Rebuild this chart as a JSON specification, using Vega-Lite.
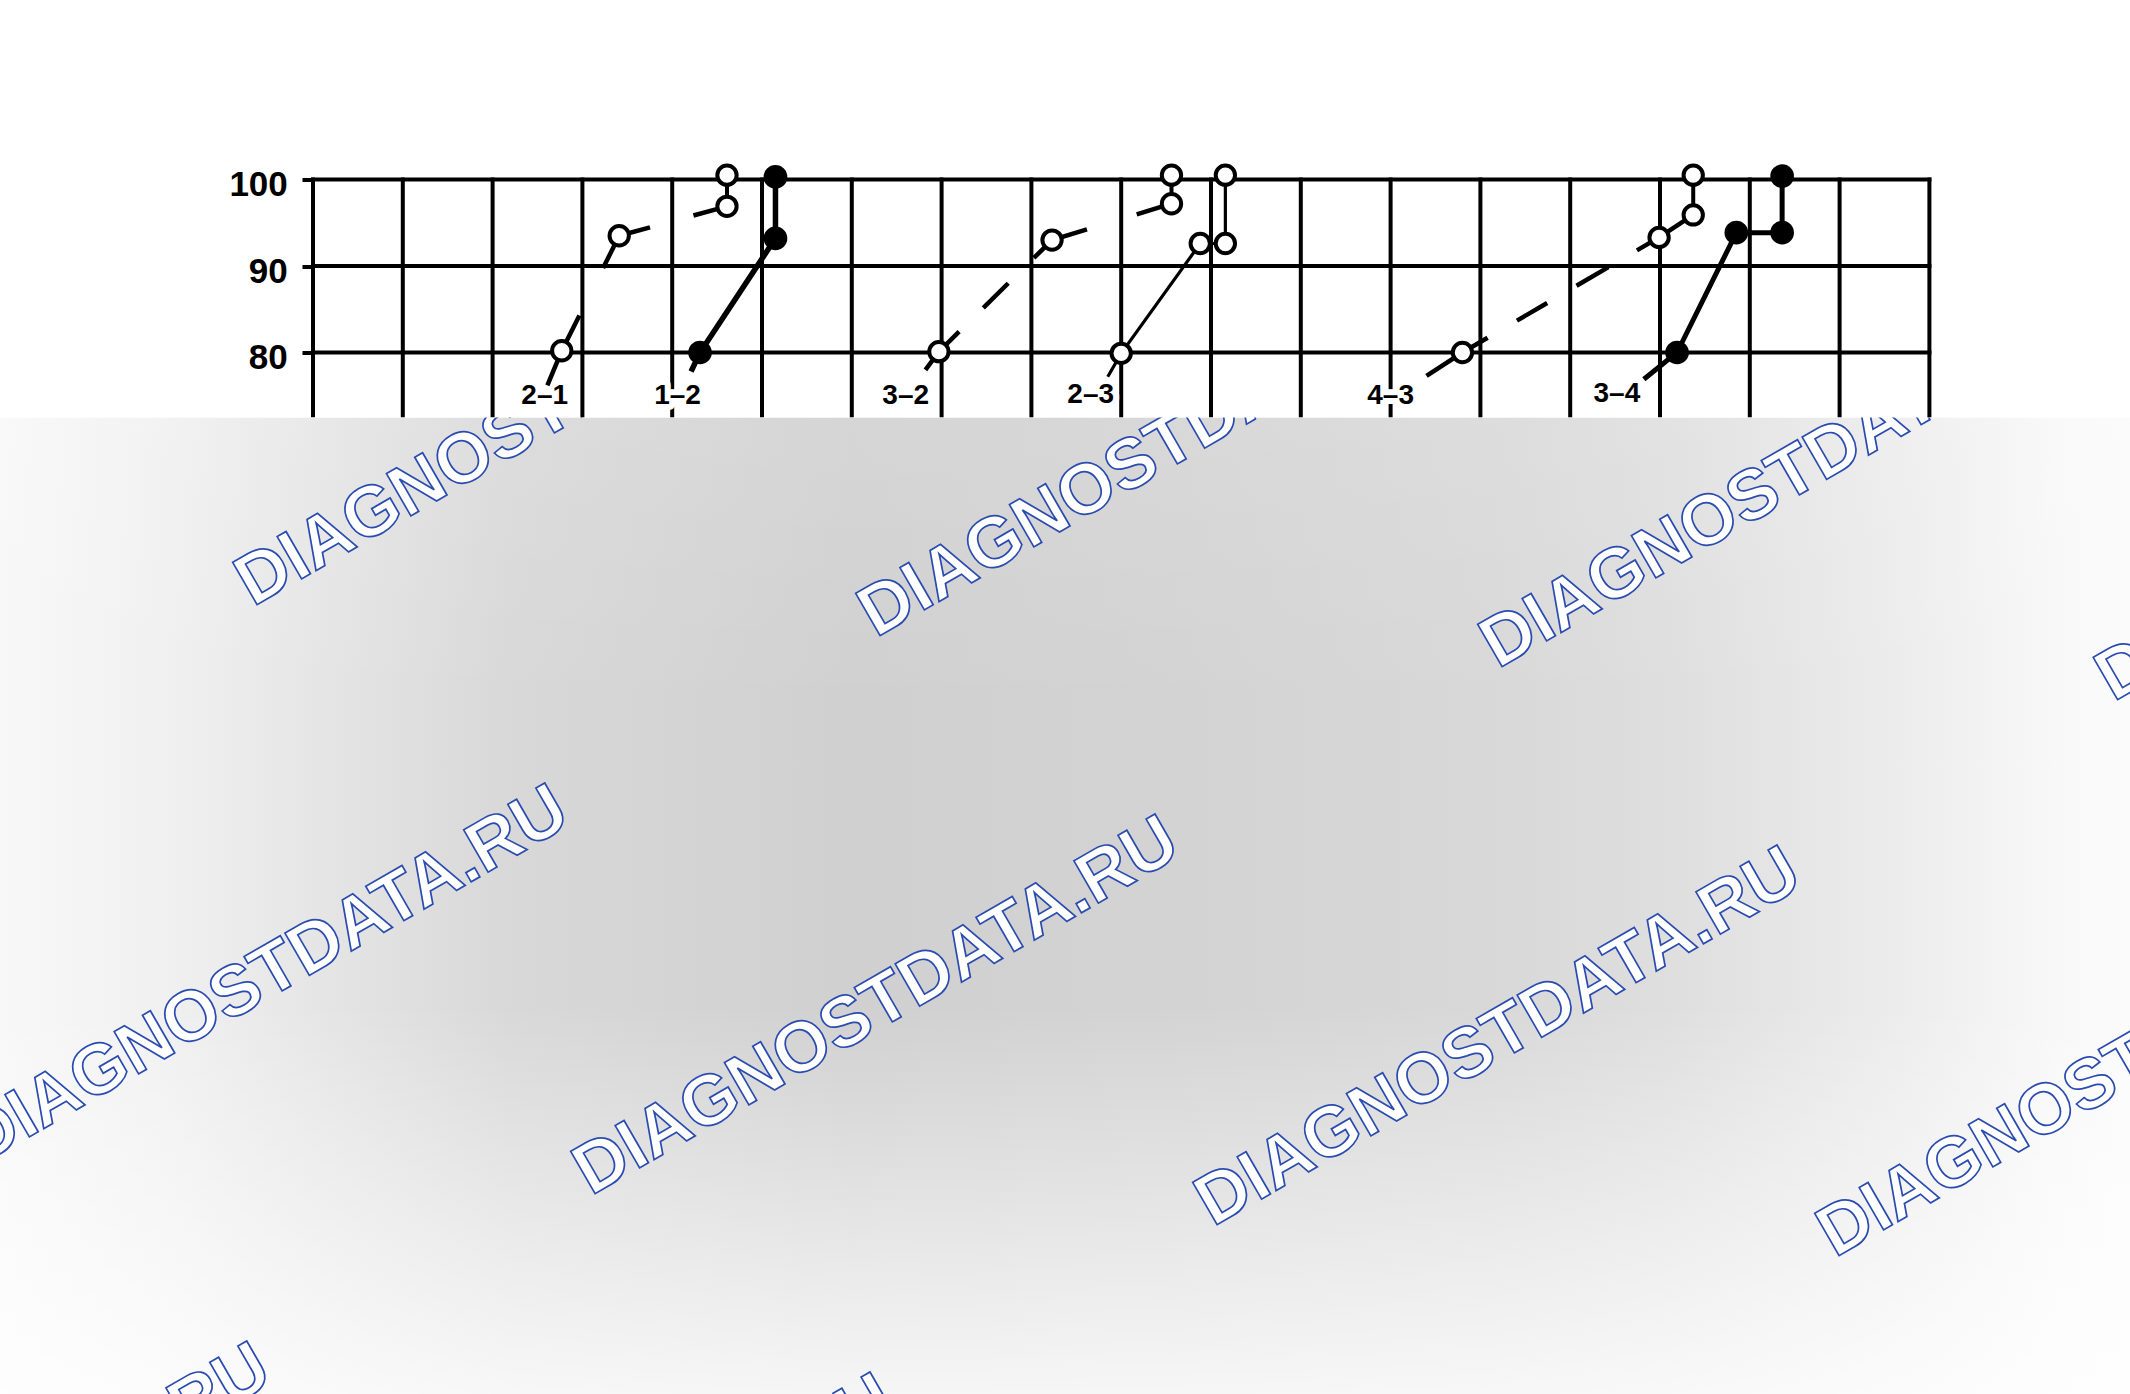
{
  "$schema": "https://vega.github.io/schema/vega-lite/v6.json",
  "width": 1616.4,
  "height": 692,
  "autosize": {"type": "none"},
  "padding": {"left": 313, "top": 179.5, "right": 200.6, "bottom": 522.5},
  "background": "white",
  "config": {"view": {"stroke": null}, "font": "Liberation Sans"},
  "datasets": {
    "overlay": [{"x": -3.49, "x2": 20.24, "y": 72.49, "y2": -40.4}],
    "mask": [{"x": -3.6, "x2": 20.4, "y": 72.49, "y2": 125}],
    "grid": [
      {"x": 0, "x2": 0, "y": 100, "y2": 72.75}, {"x": 1, "x2": 1, "y": 100, "y2": 72.75},
      {"x": 2, "x2": 2, "y": 100, "y2": 72.75}, {"x": 3, "x2": 3, "y": 100, "y2": 72.75},
      {"x": 4, "x2": 4, "y": 100, "y2": 72.75}, {"x": 5, "x2": 5, "y": 100, "y2": 72.75},
      {"x": 6, "x2": 6, "y": 100, "y2": 72.75}, {"x": 7, "x2": 7, "y": 100, "y2": 72.75},
      {"x": 8, "x2": 8, "y": 100, "y2": 72.75}, {"x": 9, "x2": 9, "y": 100, "y2": 72.75},
      {"x": 10, "x2": 10, "y": 100, "y2": 72.75}, {"x": 11, "x2": 11, "y": 100, "y2": 72.75},
      {"x": 12, "x2": 12, "y": 100, "y2": 72.75}, {"x": 13, "x2": 13, "y": 100, "y2": 72.75},
      {"x": 14, "x2": 14, "y": 100, "y2": 72.75}, {"x": 15, "x2": 15, "y": 100, "y2": 72.75},
      {"x": 16, "x2": 16, "y": 100, "y2": 72.75}, {"x": 17, "x2": 17, "y": 100, "y2": 72.75},
      {"x": 18, "x2": 18, "y": 100, "y2": 72.75},
      {"x": 0, "x2": 18, "y": 100, "y2": 100},
      {"x": 0, "x2": 18, "y": 90, "y2": 90},
      {"x": 0, "x2": 18, "y": 80, "y2": 80}
    ],
    "wm": [
      {"x": -0.668, "y": 50.58, "t": "DIAGNOSTDATA.RU"},
      {"x": 6.269, "y": 47.0, "t": "DIAGNOSTDATA.RU"},
      {"x": 13.196, "y": 43.41, "t": "DIAGNOSTDATA.RU"},
      {"x": 20.05, "y": 39.6, "t": "DIAGNOSTDATA.RU"},
      {"x": -3.7, "y": -13.93, "t": "DIAGNOSTDATA.RU"},
      {"x": 3.096, "y": -17.51, "t": "DIAGNOSTDATA.RU"},
      {"x": 10.022, "y": -21.1, "t": "DIAGNOSTDATA.RU"},
      {"x": 16.949, "y": -24.68, "t": "DIAGNOSTDATA.RU"},
      {"x": -7.016, "y": -78.44, "t": "DIAGNOSTDATA.RU"},
      {"x": -0.078, "y": -82.02, "t": "DIAGNOSTDATA.RU"},
      {"x": 6.849, "y": -85.61, "t": "DIAGNOSTDATA.RU"}
    ],
    "labels": [
      {"x": 2.58, "y": 75.0, "t": "2–1"},
      {"x": 4.06, "y": 75.0, "t": "1–2"},
      {"x": 6.6, "y": 75.0, "t": "3–2"},
      {"x": 8.66, "y": 75.1, "t": "2–3"},
      {"x": 12.0, "y": 75.0, "t": "4–3"},
      {"x": 14.52, "y": 75.2, "t": "3–4"}
    ],
    "lines": [
      {"s": "2–1", "o": 1, "x": 2.61, "y": 76.2},
      {"s": "2–1", "o": 2, "x": 2.77, "y": 80.2},
      {"s": "2–1", "o": 3, "x": 3.41, "y": 93.5},
      {"s": "2–1", "o": 4, "x": 4.61, "y": 96.9},
      {"s": "2–1 v", "o": 1, "x": 4.61, "y": 96.9},
      {"s": "2–1 v", "o": 2, "x": 4.61, "y": 100.5},
      {"s": "1–2", "o": 1, "x": 4.21, "y": 77.8},
      {"s": "1–2", "o": 2, "x": 4.31, "y": 80.0},
      {"s": "1–2", "o": 3, "x": 5.15, "y": 93.2},
      {"s": "1–2", "o": 4, "x": 5.15, "y": 100.3},
      {"s": "3–2", "o": 1, "x": 6.82, "y": 78.0},
      {"s": "3–2", "o": 2, "x": 6.97, "y": 80.1},
      {"s": "3–2", "o": 3, "x": 8.23, "y": 93.0},
      {"s": "3–2", "o": 4, "x": 9.56, "y": 97.2},
      {"s": "3–2 v", "o": 1, "x": 9.56, "y": 97.2},
      {"s": "3–2 v", "o": 2, "x": 9.56, "y": 100.5},
      {"s": "2–3", "o": 1, "x": 8.85, "y": 77.2},
      {"s": "2–3", "o": 2, "x": 9.0, "y": 79.9},
      {"s": "2–3", "o": 3, "x": 9.88, "y": 92.6},
      {"s": "2–3", "o": 4, "x": 10.16, "y": 92.6},
      {"s": "2–3", "o": 5, "x": 10.16, "y": 100.5},
      {"s": "4–3", "o": 1, "x": 12.4, "y": 77.3},
      {"s": "4–3", "o": 2, "x": 12.8, "y": 80.0},
      {"s": "4–3", "o": 3, "x": 14.99, "y": 93.3},
      {"s": "4–3", "o": 4, "x": 15.37, "y": 95.9},
      {"s": "4–3 v", "o": 1, "x": 15.37, "y": 95.9},
      {"s": "4–3 v", "o": 2, "x": 15.37, "y": 100.5},
      {"s": "3–4", "o": 1, "x": 14.82, "y": 76.9},
      {"s": "3–4", "o": 2, "x": 15.19, "y": 80.0},
      {"s": "3–4", "o": 3, "x": 15.85, "y": 93.85},
      {"s": "3–4", "o": 4, "x": 16.36, "y": 93.85},
      {"s": "3–4", "o": 5, "x": 16.36, "y": 100.4}
    ],
    "points": [
      {"k": "open", "x": 2.77, "y": 80.2},
      {"k": "open", "x": 3.41, "y": 93.5},
      {"k": "open", "x": 4.61, "y": 96.9},
      {"k": "open", "x": 4.61, "y": 100.5},
      {"k": "open", "x": 6.97, "y": 80.1},
      {"k": "open", "x": 8.23, "y": 93.0},
      {"k": "open", "x": 9.56, "y": 97.2},
      {"k": "open", "x": 9.56, "y": 100.5},
      {"k": "open", "x": 9.0, "y": 79.9},
      {"k": "open", "x": 9.88, "y": 92.6},
      {"k": "open", "x": 10.16, "y": 92.6},
      {"k": "open", "x": 10.16, "y": 100.5},
      {"k": "open", "x": 12.8, "y": 80.0},
      {"k": "open", "x": 14.99, "y": 93.3},
      {"k": "open", "x": 15.37, "y": 95.9},
      {"k": "open", "x": 15.37, "y": 100.5},
      {"k": "filled", "x": 4.31, "y": 80.0},
      {"k": "filled", "x": 5.15, "y": 93.2},
      {"k": "filled", "x": 5.15, "y": 100.3},
      {"k": "filled", "x": 15.19, "y": 80.0},
      {"k": "filled", "x": 15.85, "y": 93.85},
      {"k": "filled", "x": 16.36, "y": 93.85},
      {"k": "filled", "x": 16.36, "y": 100.4}
    ]
  },
  "encoding": {
    "x": {"field": "x", "type": "quantitative", "scale": {"domain": [0, 18], "nice": false, "zero": false}, "axis": null},
    "y": {
      "field": "y", "type": "quantitative",
      "scale": {"domain": [20, 100], "nice": false, "zero": false},
      "axis": {
        "values": [80, 90, 100], "title": null, "domain": false, "grid": false,
        "ticks": true, "tickSize": 11, "tickWidth": 4, "tickColor": "black",
        "labelFont": "Liberation Sans", "labelFontSize": 35, "labelFontWeight": "bold",
        "labelColor": "black", "labelPadding": 14.7, "labelOffset": 5, "labelOverlap": false,
        "zindex": 1
      }
    }
  },
  "layer": [
    {
      "data": {"name": "overlay"},
      "mark": {
        "type": "rect",
        "fill": {
          "gradient": "linear", "x1": 0, "y1": 0, "x2": 1, "y2": 0,
          "stops": [
            {"offset": 0, "color": "#f8f8f8"},
            {"offset": 0.08, "color": "#f0f0f0"},
            {"offset": 0.165, "color": "#e3e3e3"},
            {"offset": 0.24, "color": "#d8d8d8"},
            {"offset": 0.4, "color": "#d0d0d0"},
            {"offset": 0.55, "color": "#d3d3d3"},
            {"offset": 0.7, "color": "#d8d8d8"},
            {"offset": 0.78, "color": "#dedede"},
            {"offset": 0.89, "color": "#ececec"},
            {"offset": 0.965, "color": "#f8f8f8"},
            {"offset": 1, "color": "#fbfbfb"}
          ]
        }
      },
      "encoding": {"x2": {"field": "x2"}, "y2": {"field": "y2"}}
    },
    {
      "data": {"name": "overlay"},
      "mark": {
        "type": "rect",
        "fill": {
          "gradient": "linear", "x1": 0, "y1": 0, "x2": 0, "y2": 1,
          "stops": [
            {"offset": 0, "color": "rgba(255,255,255,0.12)"},
            {"offset": 0.3, "color": "rgba(255,255,255,0)"},
            {"offset": 0.6, "color": "rgba(255,255,255,0)"},
            {"offset": 0.8, "color": "rgba(255,255,255,0.4)"},
            {"offset": 1, "color": "rgba(255,255,255,0.8)"}
          ]
        }
      },
      "encoding": {"x2": {"field": "x2"}, "y2": {"field": "y2"}}
    },
    {
      "data": {"name": "wm"},
      "mark": {
        "type": "text", "font": "Liberation Sans", "fontWeight": "bold", "fontSize": 71,
        "angle": -30, "align": "left", "baseline": "alphabetic",
        "fill": "white", "stroke": "#2a4bb0", "strokeWidth": 1.7
      },
      "encoding": {"text": {"field": "t"}}
    },
    {
      "data": {"name": "mask"},
      "mark": {"type": "rect", "fill": "white"},
      "encoding": {"x2": {"field": "x2"}, "y2": {"field": "y2"}}
    },
    {
      "data": {"name": "grid"},
      "mark": {"type": "rule", "color": "black", "strokeWidth": 4, "strokeCap": "square"},
      "encoding": {"x2": {"field": "x2"}, "y2": {"field": "y2"}}
    },
    {
      "data": {"name": "labels"},
      "mark": {
        "type": "text", "font": "Liberation Sans", "fontWeight": "bold", "fontSize": 28,
        "align": "center", "baseline": "middle", "fill": "white", "stroke": "white",
        "strokeWidth": 12, "strokeJoin": "round"
      },
      "encoding": {"text": {"field": "t"}}
    },
    {
      "data": {"name": "lines"},
      "transform": [{"filter": "datum.s === '2–1' || datum.s === '3–2' || datum.s === '4–3'"}],
      "mark": {"type": "line", "color": "black", "strokeWidth": 4.5, "strokeCap": "butt"},
      "encoding": {
        "order": {"field": "o", "type": "quantitative"},
        "strokeDash": {
          "field": "s", "type": "nominal", "legend": null,
          "scale": {
            "domain": ["2–1", "3–2", "4–3"],
            "range": [[77, 53, 68, 45, 200], [51, 34, 35, 36, 62, 52, 200], [72, 34, 35, 34, 37, 33, 200]]
          }
        }
      }
    },
    {
      "data": {"name": "lines"},
      "transform": [{"filter": "datum.s === '2–1 v' || datum.s === '3–2 v' || datum.s === '4–3 v'"}],
      "mark": {"type": "line", "color": "black", "strokeWidth": 4},
      "encoding": {"order": {"field": "o", "type": "quantitative"}, "detail": {"field": "s", "type": "nominal"}}
    },
    {
      "data": {"name": "lines"},
      "transform": [{"filter": "datum.s === '1–2'"}],
      "mark": {"type": "line", "color": "black", "strokeWidth": 5.5},
      "encoding": {"order": {"field": "o", "type": "quantitative"}}
    },
    {
      "data": {"name": "lines"},
      "transform": [{"filter": "datum.s === '3–4'"}],
      "mark": {"type": "line", "color": "black", "strokeWidth": 5},
      "encoding": {"order": {"field": "o", "type": "quantitative"}}
    },
    {
      "data": {"name": "lines"},
      "transform": [{"filter": "datum.s === '2–3'"}],
      "mark": {"type": "line", "color": "black", "strokeWidth": 3.2},
      "encoding": {"order": {"field": "o", "type": "quantitative"}}
    },
    {
      "data": {"name": "points"},
      "transform": [{"filter": "datum.k === 'open'"}],
      "mark": {"type": "point", "shape": "circle", "filled": true, "fill": "white", "stroke": "black", "strokeWidth": 4, "size": 373, "opacity": 1}
    },
    {
      "data": {"name": "points"},
      "transform": [{"filter": "datum.k === 'filled'"}],
      "mark": {"type": "point", "shape": "circle", "filled": true, "fill": "black", "strokeWidth": 0, "size": 560, "opacity": 1}
    },
    {
      "data": {"name": "labels"},
      "mark": {
        "type": "text", "font": "Liberation Sans", "fontWeight": "bold", "fontSize": 28,
        "align": "center", "baseline": "middle", "fill": "black"
      },
      "encoding": {"text": {"field": "t"}}
    }
  ]
}
